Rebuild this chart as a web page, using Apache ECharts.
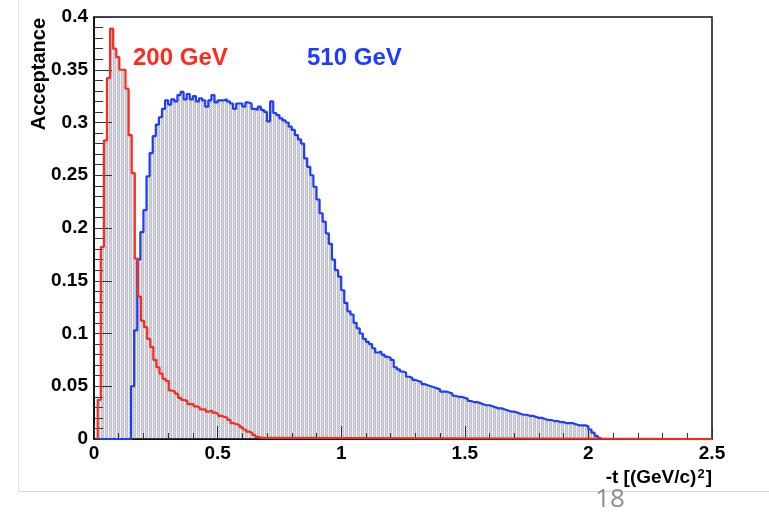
<!DOCTYPE html>
<html>
<head>
<meta charset="utf-8">
<script src="https://cdn.jsdelivr.net/npm/echarts@6/dist/echarts.min.js"></script>
<style>
  html, body { margin: 0; padding: 0; background: #ffffff; }
  #chart { width: 769px; height: 512px; }
</style>
</head>
<body>
<div id="chart"></div>
<script>
// Histogram binning in -t [(GeV/c)^2]
const binWidth = 0.0125;

// 200 GeV acceptance, bins starting at t = 0.015
const redStart = 0.015;
const red200 = [
  0.037, 0.182, 0.283, 0.342, 0.389, 0.370, 0.362, 0.350, 0.350, 0.332,
  0.288, 0.252, 0.171, 0.135, 0.112, 0.106, 0.095, 0.087, 0.075, 0.068,
  0.062, 0.057, 0.055, 0.046, 0.045, 0.043, 0.039, 0.037, 0.036, 0.033,
  0.033, 0.031, 0.030, 0.028, 0.028, 0.026, 0.027, 0.025, 0.024, 0.022,
  0.021, 0.020, 0.018, 0.015, 0.014, 0.013, 0.011, 0.009, 0.007, 0.006,
  0.004, 0.002, 0.001, 0
];

// 510 GeV acceptance, bins starting at t = 0.025
const blueStart = 0.025;
const blue510 = [
  0, 0, 0, 0, 0, 0, 0, 0, 0, 0,
  0.050, 0.103, 0.170, 0.196, 0.217, 0.249, 0.271, 0.287, 0.298, 0.305,
  0.313, 0.321, 0.317, 0.322, 0.320, 0.326, 0.329, 0.322, 0.327, 0.322,
  0.325, 0.320, 0.323, 0.321, 0.315, 0.321, 0.326, 0.319, 0.321, 0.321,
  0.322, 0.320, 0.318, 0.313, 0.318, 0.318, 0.315, 0.319, 0.318, 0.313,
  0.312, 0.315, 0.312, 0.310, 0.301, 0.320, 0.309, 0.307, 0.304, 0.302,
  0.300, 0.296, 0.293, 0.288, 0.284, 0.280, 0.266, 0.258, 0.250, 0.239,
  0.227, 0.214, 0.206, 0.195, 0.185, 0.170, 0.160, 0.154, 0.141, 0.129,
  0.121, 0.118, 0.110, 0.105, 0.100, 0.095, 0.092, 0.090, 0.086, 0.082,
  0.083, 0.080, 0.078, 0.077, 0.075, 0.068, 0.066, 0.064, 0.063, 0.059,
  0.058, 0.056, 0.055, 0.054, 0.052, 0.051, 0.050, 0.049, 0.048, 0.047,
  0.045, 0.045, 0.044, 0.043, 0.041, 0.040, 0.040, 0.039, 0.038, 0.036,
  0.035, 0.035, 0.034, 0.033, 0.032, 0.032, 0.031, 0.030, 0.029, 0.029,
  0.028, 0.027, 0.026, 0.026, 0.025, 0.024, 0.023, 0.023, 0.022, 0.022,
  0.021, 0.020, 0.020, 0.019, 0.018, 0.018, 0.017, 0.017, 0.016, 0.016,
  0.015, 0.015, 0.015, 0.014, 0.013, 0.013, 0.013, 0.012, 0.009, 0.006,
  0.003, 0.001, 0
];

// Axis ticks
const xTicks = [0, 0.5, 1, 1.5, 2, 2.5];
const yTicks = [0, 0.05, 0.1, 0.15, 0.2, 0.25, 0.3, 0.35, 0.4];

const labelFont = 'Liberation Sans, Arial, Helvetica, sans-serif';

// Step outline points: one point per bin left edge, plus a zero seed
function stepPoints(start, vals, tailTo) {
  const pts = [[start, 0]];
  vals.forEach((v, i) => pts.push([start + i * binWidth, v]));
  if (tailTo != null) pts.push([tailTo, 0]);
  return pts;
}

// Dotted grey fill pattern
function makePattern() {
  const c = document.createElement('canvas');
  c.width = 4; c.height = 4;
  const g = c.getContext('2d');
  g.fillStyle = '#bcbcc8';
  g.fillRect(0, 0, 4, 4);
  g.fillStyle = '#f2f2f6';
  g.fillRect(0, 0, 1, 4);
  g.fillRect(2, 0, 1, 1);
  g.fillRect(2, 2, 1, 1);
  g.fillStyle = '#d6d6de';
  g.fillRect(3, 1, 1, 1);
  g.fillRect(1, 3, 1, 1);
  return { image: c, repeat: 'repeat' };
}
const fillPattern = makePattern();

const redPts = stepPoints(redStart, red200, xTicks[xTicks.length - 1]);
const bluePts = stepPoints(blueStart, blue510, null);

const chart = echarts.init(document.getElementById('chart'), null, { renderer: 'canvas' });

const axisCommon = {
  type: 'value',
  z: 3,
  splitLine: { show: false },
  axisLine: { show: true, lineStyle: { color: '#000', width: 1.5 } },
  axisLabel: { color: '#000', fontWeight: 'bold', fontSize: 19, fontFamily: labelFont }
};

chart.setOption({
  animation: false,
  backgroundColor: '#ffffff',
  grid: {
    left: 94, top: 17, width: 618, height: 422,
    show: true, borderColor: '#111', borderWidth: 1.5, backgroundColor: 'transparent'
  },
  xAxis: Object.assign({}, axisCommon, {
    min: xTicks[0], max: xTicks[xTicks.length - 1], interval: xTicks[1] - xTicks[0],
    axisTick: { show: true, inside: true, length: 13, lineStyle: { color: '#333', width: 1 } },
    minorTick: { show: true, splitNumber: 5, length: 6, lineStyle: { color: '#333', width: 1 } },
    axisLabel: Object.assign({}, axisCommon.axisLabel, { margin: 5 })
  }),
  yAxis: Object.assign({}, axisCommon, {
    min: yTicks[0], max: yTicks[yTicks.length - 1], interval: yTicks[1] - yTicks[0],
    axisTick: { show: true, inside: true, length: 18, lineStyle: { color: '#333', width: 1 } },
    minorTick: { show: true, splitNumber: 5, length: 9, lineStyle: { color: '#333', width: 1 } },
    axisLabel: Object.assign({}, axisCommon.axisLabel, { margin: 6 })
  }),
  series: [
    {
      name: '510 GeV fill', type: 'line', step: 'end', data: bluePts, z: 1,
      showSymbol: false, symbol: 'none', lineStyle: { width: 0 },
      areaStyle: { color: fillPattern, opacity: 1 }
    },
    {
      name: '200 GeV fill', type: 'line', step: 'end', data: redPts, z: 1,
      showSymbol: false, symbol: 'none', lineStyle: { width: 0 },
      areaStyle: { color: fillPattern, opacity: 1 }
    },
    {
      name: '510 GeV', type: 'line', step: 'end', data: bluePts, z: 4, clip: false,
      showSymbol: false, symbol: 'none',
      lineStyle: { color: '#1e3cff', width: 2.2 }
    },
    {
      name: '200 GeV', type: 'line', step: 'end', data: redPts, z: 5, clip: false,
      showSymbol: false, symbol: 'none',
      lineStyle: { color: '#ff2a1e', width: 2.2 }
    }
  ],
  graphic: [
    // slide frame lines
    { type: 'line', shape: { x1: 18.5, y1: 0, x2: 18.5, y2: 491 }, style: { stroke: '#e2e2e2', lineWidth: 1 }, z: 0 },
    { type: 'line', shape: { x1: 18, y1: 491.5, x2: 769, y2: 491.5 }, style: { stroke: '#d6d6d6', lineWidth: 1 }, z: 0 },
    {
      type: 'text', x: 133, y: 58.5, z: 10,
      style: { text: '200 GeV', fill: '#ff2a1e', font: 'bold 24px ' + labelFont, align: 'left', verticalAlign: 'middle' }
    },
    {
      type: 'text', x: 307, y: 58.5, z: 10,
      style: { text: '510 GeV', fill: '#1e3cff', font: 'bold 24px ' + labelFont, align: 'left', verticalAlign: 'middle' }
    },
    {
      type: 'text', x: 39, y: 18, rotation: Math.PI / 2, z: 10,
      style: { text: 'Acceptance', fill: '#000', font: 'bold 20px ' + labelFont, align: 'right', verticalAlign: 'middle' }
    },
    {
      type: 'text', x: 712, y: 478, z: 10,
      style: {
        text: '{a|-t [(GeV/c)}{s|2}{a|]}',
        align: 'right', verticalAlign: 'middle',
        rich: {
          a: { fill: '#000', fontWeight: 'bold', fontSize: 19, fontFamily: labelFont },
          s: { fill: '#000', fontWeight: 'bold', fontSize: 13, fontFamily: labelFont, verticalAlign: 'top', padding: [0, 1, 8, 1] }
        }
      }
    },
    {
      type: 'text', x: 610, y: 500, z: 10,
      style: { text: '18', fill: '#8e8e8e', font: '26px "Open Sans", "Noto Sans", sans-serif', align: 'center', verticalAlign: 'middle' }
    }
  ]
});
</script>
</body>
</html>
